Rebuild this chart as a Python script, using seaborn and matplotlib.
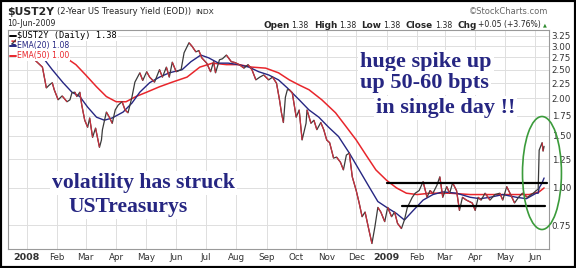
import matplotlib
matplotlib.use("Agg")
import numpy as np
import pandas as pd
import matplotlib.pyplot as plt
import matplotlib.dates as mdates
from matplotlib.collections import LineCollection
from matplotlib.patches import Ellipse, Rectangle
import seaborn as sns

# ---------------- data ----------------
price_dates = [
    "2007-12-17", "2007-12-21", "2007-12-27", "2008-01-04", "2008-01-09", "2008-01-17",
    "2008-01-21", "2008-01-24", "2008-01-27", "2008-01-29", "2008-02-02", "2008-02-06",
    "2008-02-11", "2008-02-14", "2008-02-16", "2008-02-19", "2008-02-21", "2008-02-24",
    "2008-02-26", "2008-02-29", "2008-03-03", "2008-03-05", "2008-03-08", "2008-03-11",
    "2008-03-15", "2008-03-17", "2008-03-18", "2008-03-22", "2008-03-25", "2008-03-28",
    "2008-03-31", "2008-04-03", "2008-04-07", "2008-04-10", "2008-04-13", "2008-04-17",
    "2008-04-20", "2008-04-25", "2008-04-28", "2008-05-02", "2008-05-05", "2008-05-10",
    "2008-05-15", "2008-05-18", "2008-05-22", "2008-05-25", "2008-05-28", "2008-06-01",
    "2008-06-06", "2008-06-09", "2008-06-14", "2008-06-17", "2008-06-21", "2008-06-24",
    "2008-06-27", "2008-07-02", "2008-07-06", "2008-07-09", "2008-07-11", "2008-07-15",
    "2008-07-18", "2008-07-22", "2008-07-27", "2008-07-31", "2008-08-04", "2008-08-09",
    "2008-08-13", "2008-08-17", "2008-08-21", "2008-08-25", "2008-08-29", "2008-09-03",
    "2008-09-07", "2008-09-11", "2008-09-14", "2008-09-16", "2008-09-18", "2008-09-20",
    "2008-09-22", "2008-09-24", "2008-09-27", "2008-10-01", "2008-10-04", "2008-10-07",
    "2008-10-11", "2008-10-12", "2008-10-16", "2008-10-19", "2008-10-22", "2008-10-26",
    "2008-10-29", "2008-11-01", "2008-11-04", "2008-11-08", "2008-11-11", "2008-11-15",
    "2008-11-18", "2008-11-21", "2008-11-24", "2008-11-27", "2008-12-01", "2008-12-04",
    "2008-12-07", "2008-12-10", "2008-12-14", "2008-12-17", "2008-12-20", "2008-12-23",
    "2008-12-26", "2008-12-30", "2009-01-02", "2009-01-06", "2009-01-09", "2009-01-12",
    "2009-01-16", "2009-01-19", "2009-01-22", "2009-01-27", "2009-01-30", "2009-02-03",
    "2009-02-07", "2009-02-11", "2009-02-14", "2009-02-17", "2009-02-21", "2009-02-24",
    "2009-02-27", "2009-03-03", "2009-03-06", "2009-03-09", "2009-03-13", "2009-03-16",
    "2009-03-19", "2009-03-23", "2009-03-29", "2009-04-01", "2009-04-04", "2009-04-07",
    "2009-04-11", "2009-04-16", "2009-04-21", "2009-04-26", "2009-04-29", "2009-05-03",
    "2009-05-07", "2009-05-11", "2009-05-15", "2009-05-19", "2009-05-24", "2009-05-30",
    "2009-06-02", "2009-06-04", "2009-06-05", "2009-06-08", "2009-06-09", "2009-06-10",
]
price_values = [
    3.05, 3.15, 3.05, 2.77, 2.70, 2.55,
    2.17, 2.22, 2.26, 2.14, 1.98, 2.04,
    1.95, 1.98, 2.09, 2.10, 2.03, 2.10,
    1.90, 1.69, 1.60, 1.72, 1.48, 1.59,
    1.37, 1.45, 1.57, 1.80, 1.73, 1.65,
    1.83, 1.90, 1.95, 1.83, 1.79, 2.02,
    2.27, 2.44, 2.30, 2.46, 2.36, 2.27,
    2.50, 2.36, 2.55, 2.36, 2.65, 2.46,
    2.50, 2.85, 3.08, 3.00, 2.87, 2.90,
    2.74, 2.63, 2.46, 2.66, 2.44, 2.70,
    2.72, 2.80, 2.66, 2.64, 2.60, 2.53,
    2.60, 2.50, 2.31, 2.36, 2.40, 2.31,
    2.36, 2.25, 1.98, 1.79, 1.66, 2.02,
    2.14, 2.14, 2.09, 1.73, 1.83, 1.45,
    1.65, 1.83, 1.65, 1.69, 1.57, 1.66,
    1.57, 1.45, 1.42, 1.26, 1.27, 1.22,
    1.15, 1.29, 1.31, 1.09, 0.98, 0.89,
    0.80, 0.83, 0.72, 0.65, 0.74, 0.86,
    0.83, 0.77, 0.86, 0.80, 0.83, 0.76,
    0.73, 0.78, 0.86, 0.93, 0.96, 0.98,
    1.05, 0.93, 0.98, 0.96, 1.02, 1.09,
    0.93, 1.01, 0.96, 1.04, 0.98, 0.84,
    0.93, 0.91, 0.89, 0.84, 0.93, 0.91,
    0.96, 0.91, 0.95, 0.96, 0.91, 1.01,
    0.95, 0.89, 0.93, 0.96, 0.93, 0.96,
    0.98, 0.99, 1.34, 1.42, 1.33, 1.38,
]

ema20_dates = [
    "2007-12-17", "2007-12-25", "2008-01-17", "2008-01-27", "2008-02-07", "2008-02-16",
    "2008-02-24", "2008-03-03", "2008-03-12", "2008-03-20", "2008-03-28", "2008-04-08",
    "2008-04-17", "2008-04-25", "2008-05-05", "2008-05-15", "2008-05-25", "2008-06-07",
    "2008-06-16", "2008-06-26", "2008-07-04", "2008-07-14", "2008-07-24", "2008-08-03",
    "2008-08-14", "2008-08-24", "2008-09-03", "2008-09-13", "2008-09-22", "2008-10-04",
    "2008-10-14", "2008-10-24", "2008-11-03", "2008-11-13", "2008-11-24", "2008-12-04",
    "2008-12-14", "2008-12-23", "2009-01-01", "2009-01-11", "2009-01-19", "2009-01-28",
    "2009-02-07", "2009-02-17", "2009-02-27", "2009-03-13", "2009-03-27", "2009-04-06",
    "2009-04-16", "2009-04-29", "2009-05-13", "2009-05-23", "2009-06-02", "2009-06-04",
    "2009-06-05", "2009-06-08", "2009-06-09", "2009-06-10",
]
ema20_values = [
    3.05, 3.00, 2.76, 2.50, 2.26, 2.10,
    2.03, 1.87, 1.73, 1.69, 1.72, 1.80,
    1.93, 2.10, 2.26, 2.36, 2.44, 2.50,
    2.66, 2.80, 2.74, 2.63, 2.63, 2.60,
    2.55, 2.46, 2.40, 2.31, 2.17, 1.98,
    1.83, 1.73, 1.60, 1.49, 1.31, 1.15,
    1.01, 0.90, 0.86, 0.82, 0.78, 0.84,
    0.91, 0.95, 0.97, 0.96, 0.93, 0.92,
    0.93, 0.95, 0.93, 0.92, 0.96, 0.96,
    1.00, 1.04, 1.06, 1.08,
]

ema50_dates = [
    "2007-12-17", "2007-12-25", "2008-01-24", "2008-02-01", "2008-02-10", "2008-02-20",
    "2008-03-01", "2008-03-12", "2008-03-22", "2008-04-01", "2008-04-11", "2008-04-21",
    "2008-05-02", "2008-05-15", "2008-05-28", "2008-06-12", "2008-06-25", "2008-07-08",
    "2008-07-22", "2008-08-04", "2008-08-17", "2008-08-31", "2008-09-13", "2008-09-24",
    "2008-10-04", "2008-10-14", "2008-10-27", "2008-11-10", "2008-11-20", "2008-12-01",
    "2008-12-11", "2008-12-21", "2009-01-01", "2009-01-11", "2009-01-21", "2009-02-01",
    "2009-02-14", "2009-03-06", "2009-03-27", "2009-04-16", "2009-05-06", "2009-05-26",
    "2009-06-05", "2009-06-10",
]
ema50_values = [
    3.12, 3.10, 2.82, 2.78, 2.74, 2.60,
    2.40, 2.19, 2.03, 1.95, 1.95, 2.03,
    2.10, 2.19, 2.27, 2.36, 2.55, 2.63,
    2.60, 2.60, 2.55, 2.53, 2.44, 2.31,
    2.22, 2.14, 1.98, 1.79, 1.62, 1.45,
    1.29, 1.15, 1.06, 1.00, 0.96, 0.95,
    0.96, 0.96, 0.95, 0.95, 0.95, 0.95,
    0.97, 1.00,
]

month_tick_dates = pd.date_range("2008-01-01", "2009-06-01", freq="MS")
month_tick_labels = ["2008", "Feb", "Mar", "Apr", "May", "Jun", "Jul", "Aug", "Sep",
                     "Oct", "Nov", "Dec", "2009", "Feb", "Mar", "Apr", "May", "Jun"]
ytick_values = [0.75, 1.00, 1.25, 1.50, 1.75, 2.00, 2.25, 2.50, 2.75, 3.00, 3.25]

resistance_level = 1.04
resistance_span = ["2009-01-01", "2009-06-13"]
support_level = 0.87
support_span = ["2009-01-17", "2009-06-11"]

# ---------------- figure ----------------
sns.set_style("white")
plt.rcParams["font.family"] = ["DejaVu Sans"]

W, H = 576, 268
fig = plt.figure(figsize=(W / 100, H / 100), dpi=100)
ax = fig.add_axes([8 / W, 1 - 249 / H, 541 / W, 219 / H])
renderer = fig.canvas.get_renderer()

price_df = pd.DataFrame({"date": pd.to_datetime(price_dates), "value": price_values})
ema20_df = pd.DataFrame({"date": pd.to_datetime(ema20_dates), "value": ema20_values})
ema50_df = pd.DataFrame({"date": pd.to_datetime(ema50_dates), "value": ema50_values})

navy = "#262682"
red = "#e8262c"

sns.lineplot(data=ema50_df, x="date", y="value", ax=ax, color=red, lw=1.1, zorder=3)
sns.lineplot(data=ema20_df, x="date", y="value", ax=ax, color=navy, lw=1.0, zorder=4)
sns.lineplot(data=price_df, x="date", y="value", ax=ax, color="#3a3a3a", lw=0.9, zorder=5)

# down-moves drawn in red, like the StockCharts price line
xs = mdates.date2num(price_df["date"])
ys = price_df["value"].to_numpy()
segs = [[(xs[i], ys[i]), (xs[i + 1], ys[i + 1])] for i in range(len(xs) - 1) if ys[i + 1] < ys[i]]
ax.add_collection(LineCollection(segs, colors="#c8303e", linewidths=0.9, zorder=6))

ax.set_yscale("log")
ax.set_ylim(0.623, 3.40)
ax.set_xlim(pd.Timestamp("2007-12-13"), pd.Timestamp("2009-06-15"))

ax.yaxis.tick_right()
ax.set_yticks(ytick_values)
ax.set_yticklabels([f"{v:.2f}" for v in ytick_values], fontsize=6.3, color="#333333")
ax.yaxis.set_minor_locator(matplotlib.ticker.NullLocator())
ax.set_xticks(month_tick_dates)
ax.set_xticklabels(month_tick_labels, fontsize=6.3, color="#333333")
for lab in ax.get_xticklabels():
    if lab.get_text().isdigit():
        lab.set_fontweight("bold")
        lab.set_fontsize(6.8)
ax.tick_params(axis="both", length=0, pad=2)
ax.tick_params(axis="x", pad=3)
ax.set_xlabel("")
ax.set_ylabel("")
ax.grid(True, color="#dedede", lw=0.7)
ax.set_axisbelow(True)
for s in ax.spines.values():
    s.set_color("#9a9a9a")
    s.set_linewidth(0.8)

# horizontal range lines
ax.plot(pd.to_datetime(resistance_span), [resistance_level] * 2, color="black", lw=1.6, zorder=7)
ax.plot(pd.to_datetime(support_span), [support_level] * 2, color="black", lw=1.6, zorder=7)

# green ellipse around the spike
ell = Ellipse((0.987, 0.347), 0.072, 0.516, transform=ax.transAxes, fill=False,
              edgecolor="#3b9b3b", lw=1.2, clip_on=False, zorder=8)
ax.add_patch(ell)

# annotation texts
wbox = dict(facecolor="white", edgecolor="none", pad=1.5)
tfont1 = dict(family="Liberation Serif", fontweight="bold", color=navy, fontsize=15.6)
tfont2 = dict(family="Liberation Serif", fontweight="bold", color=navy, fontsize=16.0)
ax.text(0.081, 0.301, "volatility has struck", transform=ax.transAxes, va="center", ha="left",
        bbox=wbox, zorder=9, **tfont1)
ax.text(0.111, 0.192, "USTreasurys", transform=ax.transAxes, va="center", ha="left",
        bbox=wbox, zorder=9, **tfont1)
ax.text(0.651, 0.854, "huge spike up", transform=ax.transAxes, va="center", ha="left",
        bbox=wbox, zorder=9, **tfont2)
ax.text(0.651, 0.758, "up 50-60 bpts", transform=ax.transAxes, va="center", ha="left",
        bbox=wbox, zorder=9, **tfont2)
ax.text(0.680, 0.644, "in single day !!", transform=ax.transAxes, va="center", ha="left",
        bbox=wbox, zorder=9, **tfont2)


def fx(px):
    return px / W


def fy(py):
    return 1 - py / H


# in-chart legend
leg_rows = [("$UST2Y (Daily) 1.38", "black", 36, "DejaVu Sans Mono", 6.3),
            ("EMA(20) 1.08", navy, 46, "DejaVu Sans", 5.6),
            ("EMA(50) 1.00", red, 56, "DejaVu Sans", 5.6)]
for txt, col, py, fam, fs in leg_rows:
    fig.text(fx(17), fy(py), txt, color=col, fontsize=fs, family=fam, va="center", ha="left",
             bbox=dict(facecolor="white", edgecolor="none", pad=0.6), zorder=20)
    fig.add_artist(plt.Line2D([fx(10), fx(16)], [fy(py), fy(py)], color=col, lw=1.4, zorder=21))


def text_row(items, x0, py):
    """Place texts one after another, starting at pixel x0."""
    x = x0
    for txt, kw, gap in items:
        t = fig.text(fx(x), fy(py), txt, va="center", ha="left", **kw)
        x += t.get_window_extent(renderer).width + gap
    return x


def row_width(items):
    w = 0
    for txt, kw, gap in items:
        t = fig.text(0, 0, txt, **kw)
        w += t.get_window_extent(renderer).width + gap
        t.remove()
    return w


# header, first line
title_items = [("$UST2Y", dict(fontsize=7.8, fontweight="bold"), 3),
               ("(2-Year US Treasury Yield (EOD))", dict(fontsize=6.0), 4),
               ("INDX", dict(fontsize=5.4), 0)]
text_row(title_items, 7, 12)
fig.text(fx(548), fy(12), "\u00a9StockCharts.com", fontsize=6.0, color="#666666",
         va="center", ha="right")
fig.text(fx(7), fy(24), "10-Jun-2009", fontsize=5.7, va="center", ha="left")

# header, second line (right aligned)
lab_kw = dict(fontsize=6.4, fontweight="bold")
val_kw = dict(fontsize=5.6)
quote_items = [("Open", lab_kw, 2), ("1.38", val_kw, 5), ("High", lab_kw, 2), ("1.38", val_kw, 5),
               ("Low", lab_kw, 2), ("1.38", val_kw, 5), ("Close", lab_kw, 2), ("1.38", val_kw, 5),
               ("Chg", lab_kw, 2), ("+0.05 (+3.76%)", val_kw, 2),
               ("\u25b2", dict(fontsize=3.6, color="#2e8b2e"), 0)]
text_row(quote_items, 547 - row_width(quote_items), 25)

# outer black frame
fig.add_artist(Rectangle((0, 0), 1, 1, transform=fig.transFigure, fill=False,
                         edgecolor="black", lw=3, zorder=30))

fig.savefig("out.png", dpi=100)
